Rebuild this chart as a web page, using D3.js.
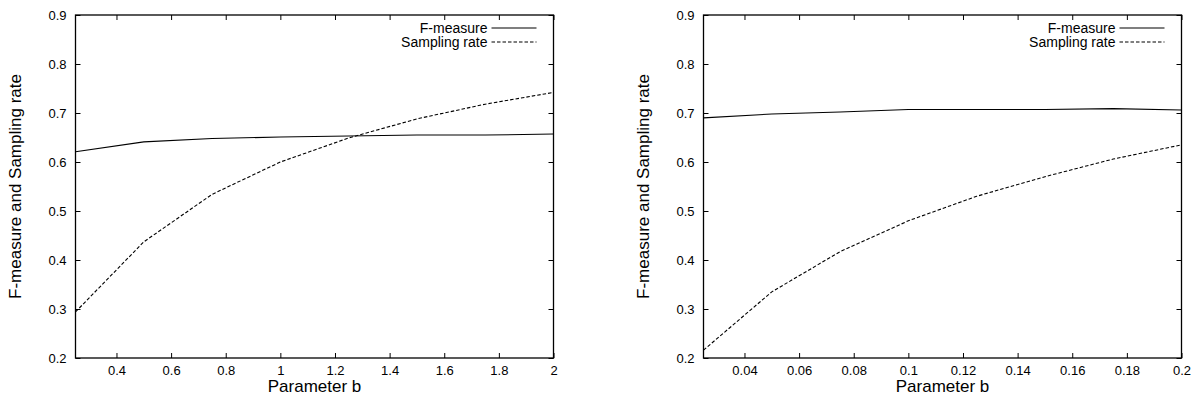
<!DOCTYPE html>
<html>
<head>
<meta charset="utf-8">
<script src="https://cdn.jsdelivr.net/npm/d3@7"></script>
<style>
  body { margin: 0; background: #fff; }
  text { font-family: "Liberation Sans", Arial, Helvetica, sans-serif; fill: #000; }
</style>
</head>
<body>
<div id="chart"></div>
<script>
// Data
var bLeft = [0.25, 0.5, 0.75, 1, 1.25, 1.5, 1.75, 2];
var fLeft = [0.621, 0.641, 0.648, 0.651, 0.653, 0.655, 0.655, 0.657];
var sLeft = [0.294, 0.437, 0.534, 0.600, 0.649, 0.688, 0.718, 0.742];

var bRight = [0.025, 0.05, 0.075, 0.1, 0.125, 0.15, 0.175, 0.2];
var fRight = [0.690, 0.698, 0.702, 0.707, 0.707, 0.707, 0.709, 0.706];
var sRight = [0.216, 0.335, 0.417, 0.480, 0.530, 0.570, 0.606, 0.635];

var xTicksLeft = [0.4, 0.6, 0.8, 1, 1.2, 1.4, 1.6, 1.8, 2];
var xTicksRight = [0.04, 0.06, 0.08, 0.1, 0.12, 0.14, 0.16, 0.18, 0.2];
var yTicks = [0.2, 0.3, 0.4, 0.5, 0.6, 0.7, 0.8, 0.9];

var seriesNames = ["F-measure", "Sampling rate"];
var xTitle = "Parameter b";
var yTitle = "F-measure and Sampling rate";

var svgWidth = 1195;
var svgHeight = 400;

var svg = d3.select("#chart")
  .append("svg")
  .attr("width", svgWidth)
  .attr("height", svgHeight);

// draw one gnuplot style panel
function drawPanel(left, xs, fVals, sVals, xDomain, xTicks) {
  var width = 478;
  var height = 343;
  var top = 15;

  var g = svg.append("g")
    .attr("transform", `translate(${left}, ${top})`);

  var x = d3.scaleLinear().domain(xDomain).range([0, width]);
  var y = d3.scaleLinear().domain([0.2, 0.9]).range([height, 0]);

  var fmt = function(d) { return String(+d.toFixed(3)); };

  // axes with inward ticks on all four sides
  g.append("g")
    .attr("transform", `translate(0, ${height})`)
    .call(d3.axisBottom(x).tickValues(xTicks).tickSizeInner(-5).tickSizeOuter(0).tickPadding(8).tickFormat(fmt));
  g.append("g")
    .call(d3.axisTop(x).tickValues(xTicks).tickSizeInner(-5).tickSizeOuter(0).tickFormat(""));
  g.append("g")
    .call(d3.axisLeft(y).tickValues(yTicks).tickSizeInner(-5).tickSizeOuter(0).tickPadding(9).tickFormat(fmt));
  g.append("g")
    .attr("transform", `translate(${width}, 0)`)
    .call(d3.axisRight(y).tickValues(yTicks).tickSizeInner(-5).tickSizeOuter(0).tickFormat(""));

  g.selectAll(".domain").remove();
  g.selectAll(".tick line").attr("stroke", "#000").attr("stroke-width", 1);
  g.selectAll(".tick text")
    .style("font-size", "13px")
    .attr("fill", "#000");

  // frame
  g.append("rect")
    .attr("x", 0).attr("y", 0)
    .attr("width", width).attr("height", height)
    .attr("fill", "none")
    .attr("stroke", "#000")
    .attr("stroke-width", 1.3);

  var line = d3.line()
    .x(function(d) { return x(d[0]); })
    .y(function(d) { return y(d[1]); });

  g.append("path")
    .attr("d", line(d3.zip(xs, fVals)))
    .attr("fill", "none")
    .attr("stroke", "#000")
    .attr("stroke-width", 1.1);

  g.append("path")
    .attr("d", line(d3.zip(xs, sVals)))
    .attr("fill", "none")
    .attr("stroke", "#000")
    .attr("stroke-width", 1.1)
    .attr("stroke-dasharray", "3.5,2");

  // legend
  var legend = g.append("g")
    .attr("transform", `translate(${width - 66}, 13)`);
  seriesNames.forEach(function(name, i) {
    legend.append("text")
      .attr("x", 0)
      .attr("y", i * 14)
      .attr("dy", "0.35em")
      .attr("text-anchor", "end")
      .style("font-size", "14px")
      .text(name);
    legend.append("line")
      .attr("x1", 4).attr("x2", 49)
      .attr("y1", i * 14).attr("y2", i * 14)
      .attr("stroke", "#000")
      .attr("stroke-width", 1.1)
      .attr("stroke-dasharray", i == 1 ? "3.5,2" : null);
  });

  // axis titles
  g.append("text")
    .attr("x", width / 2)
    .attr("y", height + 34)
    .attr("text-anchor", "middle")
    .style("font-size", "17px")
    .text(xTitle);

  g.append("text")
    .attr("transform", "rotate(-90)")
    .attr("x", -height / 2)
    .attr("y", -60)
    .attr("dy", "0.35em")
    .attr("text-anchor", "middle")
    .style("font-size", "17px")
    .text(yTitle);
}

drawPanel(75.5, bLeft, fLeft, sLeft, [0.25, 2], xTicksLeft);
drawPanel(703.5, bRight, fRight, sRight, [0.025, 0.2], xTicksRight);
</script>
</body>
</html>
